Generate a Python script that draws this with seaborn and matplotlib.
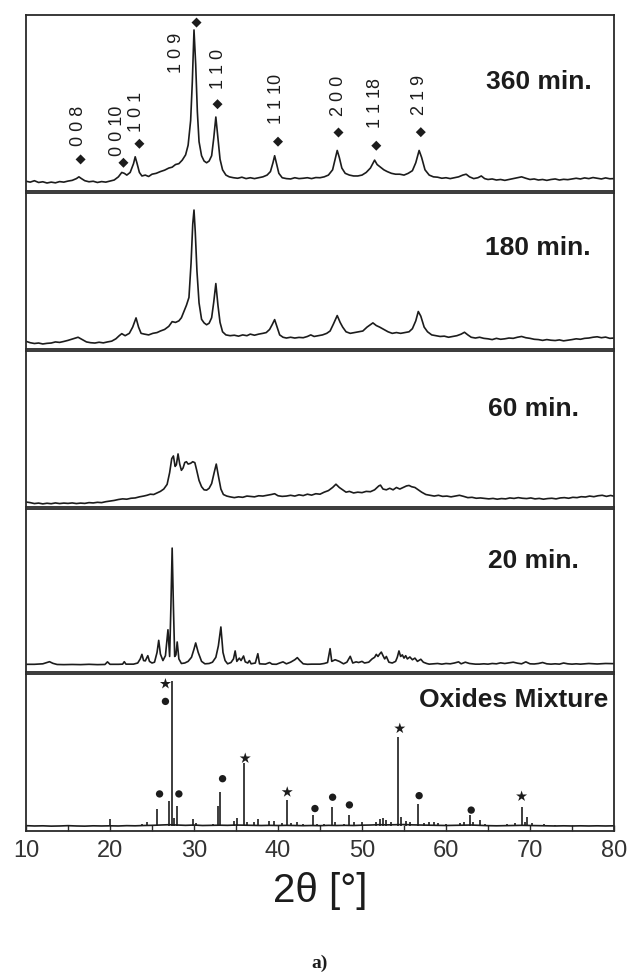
"""
XRD patterns of the oxide mixture after increasing milling time.
Five stacked panels sharing the 2-theta axis.
"""

import matplotlib.pyplot as plt
import seaborn as sns

# Data (2theta in degrees, intensity in % of panel height)

X_360 = [10.0, 10.5, 11.0, 11.5, 12.0, 12.5, 13.0, 13.5, 14.0, 14.5, 15.0, 15.5, 16.0, 16.3, 16.6,
         17.0, 17.5, 18.0, 18.5, 19.0, 19.5, 20.0, 20.5, 21.0, 21.4, 21.7, 22.0, 22.4, 22.8, 23.0,
         23.2, 23.5, 23.8, 24.2, 24.6, 25.0, 25.5, 26.0, 26.5, 27.0, 27.4, 27.8, 28.2, 28.6, 29.0,
         29.3, 29.6, 29.8, 30.0, 30.2, 30.4, 30.6, 30.9, 31.2, 31.5, 31.8, 32.1, 32.35, 32.6, 32.85,
         33.1, 33.4, 33.8, 34.2, 34.7, 35.2, 35.7, 36.2, 36.7, 37.2, 37.7, 38.2, 38.7, 39.1, 39.4,
         39.6, 39.8, 40.1, 40.5, 41.0, 41.5, 42.0, 42.5, 43.0, 43.5, 44.0, 44.5, 45.0, 45.5, 46.0,
         46.5, 46.8, 47.05, 47.3, 47.6, 48.0, 48.5, 49.0, 49.5, 50.0, 50.5, 51.0, 51.5, 51.8, 52.2,
         52.6, 53.0, 53.5, 54.0, 54.5, 55.0, 55.5, 56.0, 56.4, 56.8, 57.1, 57.5, 58.0, 58.5, 59.0,
         59.5, 60.0, 60.5, 61.0, 61.5, 62.0, 62.4, 62.8, 63.3, 63.8, 64.2, 64.6, 65.0, 65.5, 66.0,
         66.5, 67.0, 67.5, 68.0, 68.5, 69.0, 69.5, 70.0, 70.5, 71.0, 71.5, 72.0, 72.5, 73.0, 73.5,
         74.0, 74.5, 75.0, 75.5, 76.0, 76.5, 77.0, 77.5, 78.0, 78.5, 79.0, 79.5, 80.0]
I_360 = [5.5, 5.0, 5.8, 4.8, 5.2, 4.5, 5.0, 4.6, 5.3, 5.0, 5.6, 6.0, 7.0, 8.0, 7.0,
         5.8, 5.2, 5.5, 4.8, 5.3, 5.0, 5.6, 6.2, 8.0, 10.5, 10.0, 9.0, 10.5, 15.5, 19.4,
         16.0, 10.5, 8.5, 9.0, 8.2, 9.5, 10.0, 11.0, 11.8, 13.0, 13.5, 15.0, 15.5, 17.5, 20.5,
         26.0, 40.0, 62.0, 91.5, 72.0, 45.0, 28.0, 20.0, 17.0, 16.0, 17.0, 20.0, 30.0, 42.0, 30.0,
         18.0, 12.0, 9.0, 8.0, 7.5, 7.2, 7.8, 7.0, 7.5, 7.0, 7.5, 8.0, 9.0, 11.0, 16.0,
         20.0, 16.0, 10.0, 7.5, 7.0, 6.8, 7.5, 7.0, 7.2, 7.5, 7.0, 7.6, 7.5, 8.0, 9.0,
         12.0, 18.0, 23.0, 19.0, 13.0, 10.0, 9.0, 8.5, 8.5, 9.0, 10.5, 13.0, 17.5, 15.0, 13.5,
         12.0, 11.0, 10.0, 9.5, 9.5, 9.0, 10.0, 11.5, 16.0, 23.0, 19.0, 12.0, 9.0, 8.0, 7.8,
         7.2, 7.5, 7.0, 7.5, 8.0, 9.0, 9.5, 8.0, 7.0, 7.5, 8.5, 7.0, 6.5, 6.8, 6.2,
         6.5, 6.0, 6.5, 7.0, 7.5, 8.0, 7.2, 6.5, 6.8, 6.2, 6.5, 6.0, 6.5, 6.8, 6.2,
         6.6, 6.4, 6.8, 7.2, 6.8, 7.4, 7.0, 7.6, 7.2, 6.8, 7.4, 6.9, 7.0]

X_180 = [10.0, 10.5, 11.0, 11.5, 12.0, 12.5, 13.0, 13.5, 14.0, 14.5, 15.0, 15.6, 16.2, 16.7, 17.2,
         17.7, 18.2, 18.7, 19.2, 19.7, 20.2, 20.7, 21.1, 21.4, 21.8, 22.3, 22.7, 23.1, 23.4, 23.7,
         24.1, 24.6, 25.1, 25.6, 26.0, 26.5, 27.0, 27.4, 27.8, 28.2, 28.5, 28.8, 29.1, 29.4, 29.65,
         29.85, 30.0, 30.15, 30.35, 30.6, 30.9, 31.2, 31.5, 31.8, 32.1, 32.35, 32.6, 32.85, 33.1, 33.4,
         33.8, 34.3, 34.8, 35.3, 35.8, 36.3, 36.7, 37.2, 37.7, 38.2, 38.6, 39.0, 39.3, 39.6, 39.9,
         40.2, 40.6, 41.0, 41.5, 42.0, 42.5, 43.0, 43.5, 43.9, 44.3, 44.8, 45.3, 45.8, 46.2, 46.6,
         47.05, 47.4, 47.7, 48.1, 48.6, 49.1, 49.6, 50.1, 50.6, 51.0, 51.3, 51.7, 52.1, 52.6, 53.1,
         53.6, 54.1, 54.6, 55.1, 55.6, 56.0, 56.4, 56.7, 57.0, 57.4, 57.8, 58.3, 58.8, 59.3, 59.8,
         60.3, 60.8, 61.3, 61.8, 62.2, 62.6, 63.0, 63.5, 64.0, 64.5, 65.0, 65.5, 66.0, 66.5, 67.0,
         67.5, 68.0, 68.5, 69.0, 69.5, 70.0, 70.5, 71.0, 71.5, 72.0, 72.5, 73.0, 73.5, 74.0, 74.5,
         75.0, 75.5, 76.0, 76.5, 77.0, 77.5, 78.0, 78.5, 79.0, 79.5, 80.0]
I_180 = [4.9, 4.0, 3.5, 3.8, 3.2, 3.6, 3.8, 4.5, 4.2, 4.8, 5.5, 6.5, 7.5, 6.0, 4.5,
         4.0, 3.8, 4.3, 3.9, 4.5, 5.0, 6.5, 8.5, 9.8, 8.5, 10.0, 14.0, 19.9, 14.0, 10.0,
         9.5, 9.0, 10.0, 10.5, 11.5, 12.5, 14.5, 17.5, 17.0, 18.0, 20.0, 24.0, 28.0, 33.0, 55.0,
         80.0, 89.0, 75.0, 50.0, 29.5, 19.0, 16.7, 15.5, 16.5, 20.0, 30.0, 41.9, 28.0, 17.0, 11.0,
         9.0, 8.5, 8.8, 8.2, 9.0, 8.5, 9.5, 8.8, 9.5, 10.0, 10.5, 12.5, 15.5, 18.8, 14.0,
         9.0, 7.5, 7.0, 7.5, 7.0, 7.4, 7.2, 8.0, 9.0, 8.0, 8.5, 9.0, 10.0, 11.5, 16.0,
         21.4, 17.0, 14.0, 11.0, 10.0, 10.5, 11.0, 11.5, 14.0, 15.5, 16.7, 15.0, 14.0, 12.5, 11.0,
         10.0, 10.5, 10.0, 10.5, 11.0, 13.0, 18.0, 24.0, 21.0, 14.0, 11.0, 9.0, 8.5, 8.0, 8.2,
         7.5, 8.0, 8.5, 9.5, 10.7, 9.0, 7.5, 7.0, 7.5, 6.8, 6.5, 6.0, 6.8, 6.2, 6.5,
         7.0, 6.8, 7.5, 8.0, 7.2, 6.8, 6.2, 6.0, 5.5, 6.0, 5.6, 5.4, 5.8, 5.2, 5.6,
         6.0, 6.5, 6.2, 6.8, 7.0, 7.5, 7.8, 7.2, 7.6, 6.8, 7.0]

X_60 = [10.0, 10.5, 11.0, 11.5, 12.0, 12.5, 13.0, 13.5, 14.0, 14.5, 15.0, 15.5, 16.0, 16.5, 17.0,
        17.5, 18.0, 18.5, 19.0, 19.5, 20.0, 20.5, 21.0, 21.5, 22.0, 22.5, 23.0, 23.5, 24.0, 24.4,
        24.8, 25.2, 25.6, 26.0, 26.4, 26.8, 27.1, 27.35, 27.55, 27.75, 27.9, 28.1, 28.3, 28.5, 28.7,
        28.9, 29.1, 29.3, 29.6, 29.85, 30.1, 30.3, 30.6, 30.9, 31.2, 31.5, 31.8, 32.1, 32.4, 32.65,
        32.9, 33.2, 33.5, 33.9, 34.3, 34.8, 35.3, 35.8, 36.3, 36.7, 37.2, 37.7, 38.2, 38.7, 39.2,
        39.6, 40.0, 40.5, 41.0, 41.5, 42.0, 42.5, 43.0, 43.5, 44.0, 44.5, 45.0, 45.5, 46.0, 46.5,
        46.9, 47.3, 47.7, 48.1, 48.5, 49.0, 49.5, 50.0, 50.5, 51.0, 51.5, 52.0, 52.2, 52.5, 52.9,
        53.3, 53.7, 54.1, 54.5, 54.9, 55.3, 55.6, 55.9, 56.3, 56.7, 57.1, 57.6, 58.1, 58.6, 59.1,
        59.6, 60.1, 60.6, 61.1, 61.6, 62.1, 62.6, 63.1, 63.6, 64.1, 64.6, 65.1, 65.6, 66.1, 66.6,
        67.1, 67.6, 68.1, 68.6, 69.1, 69.6, 70.1, 70.6, 71.1, 71.6, 72.1, 72.6, 73.1, 73.6, 74.1,
        74.6, 75.1, 75.6, 76.1, 76.6, 77.1, 77.6, 78.1, 78.6, 79.1, 79.6, 80.0]
I_60 = [3.2, 2.8, 2.2, 2.5, 2.0, 2.4, 2.1, 2.6, 2.2, 2.5, 2.3, 2.6, 2.2, 2.5, 2.3,
        2.8, 2.6, 3.0, 2.8, 3.4, 3.8, 4.2, 4.8, 5.2, 5.0, 5.6, 5.8, 6.5, 7.0, 7.5,
        8.2, 8.0, 9.0, 10.0, 11.5, 14.5, 22.0, 31.0, 32.7, 26.0, 27.0, 34.0, 27.5, 23.5, 25.0,
        28.5, 29.0, 27.5, 28.0, 29.0, 28.4, 24.0, 17.0, 13.0, 11.0, 10.8, 12.0, 15.0, 22.0, 27.5,
        20.0, 11.5, 8.0, 7.0, 6.5, 6.0, 6.5, 6.2, 7.0, 6.8, 6.5, 7.2, 7.0, 7.5, 8.0,
        8.5, 7.2, 6.8, 7.0, 7.5, 7.0, 7.8, 7.3, 8.2, 7.6, 8.5, 8.2, 9.5, 10.5, 12.5,
        14.6, 12.5, 11.0, 9.5, 10.0, 9.0, 9.5, 9.2, 10.0, 9.8, 11.0, 13.5, 14.0, 11.5, 11.0,
        12.0, 11.0, 12.5, 11.5, 12.5, 13.5, 13.8, 13.0, 12.5, 11.0, 9.5, 8.0, 7.5, 7.0, 7.5,
        6.8, 7.0, 6.5, 7.0, 7.5, 6.8, 6.0, 6.2, 5.6, 5.8, 5.5, 5.2, 5.5, 5.0, 5.4,
        5.2, 5.8, 5.5, 6.0, 5.6, 5.4, 5.8, 5.2, 5.5, 5.0, 5.4, 5.6, 5.2, 5.8, 6.0,
        5.6, 6.2, 6.0, 6.6, 6.4, 7.0, 6.6, 7.2, 7.5, 6.8, 7.4, 6.9]

X_20 = [10.0, 11.0, 12.0, 12.5, 12.8, 13.2, 13.7, 14.5, 15.5, 16.5, 17.5, 18.5, 19.4, 19.7, 20.0,
        21.0, 21.5, 21.7, 21.9, 22.8, 23.3, 23.6, 23.8, 24.0, 24.2, 24.5, 24.7, 25.0, 25.3, 25.6,
        25.8, 26.0, 26.3, 26.6, 26.9, 27.1, 27.25, 27.4, 27.55, 27.7, 27.85, 28.0, 28.2, 28.5, 28.9,
        29.3, 29.7, 30.0, 30.2, 30.5, 30.9, 31.3, 31.8, 32.2, 32.6, 32.9, 33.2, 33.45, 33.7, 34.0,
        34.4, 34.7, 34.9, 35.1, 35.4, 35.6, 35.9, 36.1, 36.4, 36.6, 36.8, 37.3, 37.6, 37.8, 38.5,
        39.0, 39.3, 39.8, 40.2, 40.6, 41.0, 41.5, 42.0, 42.3, 42.6, 43.0, 43.5, 44.0, 44.5, 45.0,
        45.5, 45.9, 46.2, 46.4, 46.8, 47.3, 47.8, 48.2, 48.6, 48.9, 49.3, 49.6, 50.0, 50.3, 50.8,
        51.2, 51.5, 51.7, 51.9, 52.1, 52.3, 52.5, 52.7, 52.9, 53.2, 53.6, 54.0, 54.2, 54.4, 54.6,
        54.8, 55.0, 55.2, 55.4, 55.7, 56.0, 56.3, 56.6, 57.0, 57.3, 57.7, 58.0, 58.6, 59.0, 59.5,
        60.0, 60.5, 61.0, 61.5, 61.8, 62.3, 62.8, 63.5, 64.0, 64.5, 65.0, 65.5, 66.0, 66.5, 67.0,
        67.5, 68.0, 68.5, 69.0, 69.5, 70.0, 70.5, 71.0, 71.5, 72.0, 72.5, 73.0, 73.5, 74.0, 74.5,
        75.0, 75.5, 76.0, 77.0, 78.0, 79.0, 80.0]
I_20 = [4.7, 4.7, 5.0, 5.8, 6.3, 5.3, 4.6, 4.5, 4.6, 4.5, 4.7, 4.5, 4.6, 6.2, 4.7,
        4.7, 4.8, 6.3, 4.8, 4.8, 5.5, 8.0, 10.8, 7.0, 6.8, 10.0, 6.5, 5.5, 6.0, 12.0,
        19.4, 11.0, 7.0, 10.0, 25.9, 9.5, 40.0, 76.0, 40.0, 9.5, 10.5, 18.4, 8.0, 5.2, 5.5,
        6.5, 9.0, 14.0, 17.8, 12.0, 6.5, 5.0, 5.2, 6.0, 9.0, 16.0, 27.6, 12.0, 7.0, 5.0,
        5.8, 8.0, 12.9, 6.5, 8.5, 7.0, 9.8, 6.2, 5.5, 7.0, 5.0, 5.5, 11.2, 5.0, 4.8,
        5.8, 4.8, 4.7, 5.5, 6.2, 5.0, 6.0, 7.5, 8.8, 7.0, 5.0, 4.7, 4.8, 4.8, 4.8,
        5.2, 5.8, 14.3, 6.5, 7.5, 6.5, 5.0, 6.0, 9.6, 5.5, 6.2, 5.8, 6.5, 5.5, 6.0,
        8.0, 9.0, 10.8, 9.5, 11.0, 12.2, 10.0, 8.0, 9.5, 6.0, 5.5, 6.5, 9.0, 12.9, 9.5,
        10.5, 8.5, 10.0, 8.0, 9.2, 7.5, 8.5, 6.5, 7.8, 6.0, 5.2, 4.8, 5.0, 5.2, 4.8,
        5.2, 5.0, 5.5, 6.2, 5.0, 6.0, 5.2, 4.8, 4.8, 5.0, 4.8, 5.2, 5.0, 5.6, 5.2,
        5.6, 6.0, 5.4, 5.0, 6.2, 5.0, 4.9, 5.2, 5.8, 5.0, 4.8, 5.0, 4.8, 5.5, 5.0,
        4.8, 5.0, 4.8, 5.2, 4.9, 5.2, 5.1]

# oxide mixture: flat baseline plus sharp reflections drawn as sticks
X_OXIDE_BASE = [10.0, 11.0, 12.0, 13.0, 14.0, 15.0, 16.0, 17.0, 18.0, 19.0, 20.0, 21.0, 22.0, 23.0,
                24.0, 25.0, 26.0, 27.0, 28.0, 29.0, 30.0, 31.0, 32.0, 33.0, 34.0, 35.0, 36.0, 37.0,
                38.0, 39.0, 40.0, 41.0, 42.0, 43.0, 44.0, 45.0, 46.0, 47.0, 48.0, 49.0, 50.0, 51.0,
                52.0, 53.0, 54.0, 55.0, 56.0, 57.0, 58.0, 59.0, 60.0, 61.0, 62.0, 63.0, 64.0, 65.0,
                66.0, 67.0, 68.0, 69.0, 70.0, 71.0, 72.0, 73.0, 74.0, 75.0, 76.0, 77.0, 78.0, 79.0, 80.0]
I_OXIDE_BASE = [3.4, 3.2, 3.3, 3.1, 3.2, 3.4, 3.2, 3.1, 3.3, 3.2, 3.3, 3.2, 3.4, 3.3,
                3.5, 3.6, 3.8, 4.0, 3.8, 3.6, 3.8, 3.5, 3.6, 3.7, 3.6, 3.8, 3.7, 3.6,
                3.5, 3.6, 3.5, 3.6, 3.5, 3.4, 3.5, 3.4, 3.6, 3.5, 3.6, 3.5, 3.7, 3.8,
                4.0, 3.9, 4.0, 4.1, 3.9, 3.8, 3.7, 3.6, 3.5, 3.6, 3.7, 3.8, 3.6, 3.4,
                3.3, 3.4, 3.5, 3.6, 3.5, 3.4, 3.3, 3.2, 3.3, 3.2, 3.3, 3.2, 3.3, 3.2, 3.3]
OXIDE_PEAK_POS = [20.0, 23.8, 24.4, 25.6, 27.0, 27.4, 27.6, 28.0, 29.9, 30.2, 32.3, 32.9, 33.1,
                  34.8, 35.1, 36.0, 36.3, 37.2, 37.6, 38.9, 39.5, 40.5, 41.1, 41.6, 42.3, 43.0,
                  44.2, 44.7, 45.5, 46.4, 46.8, 47.9, 48.5, 49.0, 50.0, 51.7, 52.2, 52.5, 52.9,
                  53.4, 54.3, 54.7, 55.2, 55.7, 56.65, 57.4, 58.0, 58.6, 59.1, 60.0, 61.7, 62.2,
                  62.8, 63.2, 64.0, 64.6, 66.5, 67.3, 68.2, 69.0, 69.4, 69.7, 70.2, 71.7, 73.0]
OXIDE_PEAK_INT = [7.8, 4.5, 5.5, 13.7, 19.0, 95.4, 8.0, 16.2, 7.4, 5.0, 4.5, 16.0, 25.0,
                  6.5, 8.0, 43.0, 6.0, 5.5, 7.5, 6.5, 6.5, 5.0, 19.6, 5.0, 5.5, 4.5,
                  10.0, 4.5, 4.5, 15.4, 6.0, 4.5, 10.5, 5.5, 6.0, 5.5, 7.5, 8.0, 7.0,
                  5.5, 60.0, 9.0, 6.5, 5.5, 17.5, 5.0, 6.0, 5.5, 5.0, 4.5, 5.0, 6.0,
                  10.5, 5.5, 7.0, 4.5, 4.0, 4.5, 5.0, 15.4, 6.0, 9.0, 5.0, 4.5, 4.0]

# phase markers in the oxide mixture
STAR_X = [26.6, 36.1, 41.1, 54.5, 69.0]
STAR_Y = [93.7, 46.3, 24.8, 65.3, 22.1]
DOT_X = [26.6, 25.9, 28.2, 33.4, 44.4, 46.5, 48.5, 56.8, 63.0]
DOT_Y = [82.5, 23.6, 23.6, 33.3, 14.3, 21.5, 16.6, 22.5, 13.3]

# hkl reflections of the product (360 min)
HKL_LABELS = ["0 0 8", "0 0 10", "1 0 1", "1 0 9", "1 1 0", "1 1 10", "2 0 0", "1 1 18", "2 1 9"]
HKL_TEXT_X = [16.3, 20.9, 23.1, 27.9, 32.9, 39.8, 47.2, 51.6, 56.8]
HKL_TEXT_Y = [25.6, 20.0, 33.5, 67.0, 57.7, 37.9, 42.5, 36.0, 43.0]
HKL_MARK_X = [16.5, 21.6, 23.5, 30.3, 32.8, 40.0, 47.2, 51.7, 57.0]
HKL_MARK_Y = [17.9, 16.0, 26.8, 95.7, 49.3, 28.0, 33.2, 25.7, 33.4]

PANEL_LABELS = ["360 min.", "180 min.", "60 min.", "20 min.", "Oxides Mixture"]
LABEL_X = [0.963, 0.961, 0.941, 0.941, 0.990]
LABEL_Y = [0.62, 0.646, 0.63, 0.68, 0.836]

INK = "#1c1c1c"

sns.set_theme(style="white")
plt.rcParams["font.family"] = ["Liberation Sans", "DejaVu Sans"]

fig = plt.figure(figsize=(6.27, 9.72), dpi=100)
gs = fig.add_gridspec(
    5, 1,
    left=26 / 627, right=614 / 627, top=1 - 15 / 972, bottom=1 - 831 / 972,
    hspace=0.012, height_ratios=[177.5, 157.5, 157.5, 164.5, 158.5],
)
axes = [fig.add_subplot(gs[i, 0]) for i in range(5)]

curves = [(X_360, I_360), (X_180, I_180), (X_60, I_60), (X_20, I_20)]
for ax, (xs, ys) in zip(axes[:4], curves):
    sns.lineplot(x=xs, y=ys, ax=ax, color=INK, linewidth=1.2, sort=False, estimator=None)

ax5 = axes[4]
sns.lineplot(x=X_OXIDE_BASE, y=I_OXIDE_BASE, ax=ax5, color=INK, linewidth=1.2,
             sort=False, estimator=None)
ax5.vlines(OXIDE_PEAK_POS, 3.3, OXIDE_PEAK_INT, color=INK, linewidth=1.2)
sns.scatterplot(x=STAR_X, y=STAR_Y, ax=ax5, marker="*", s=70, color=INK,
                edgecolor="none", zorder=5, clip_on=False)
sns.scatterplot(x=DOT_X, y=DOT_Y, ax=ax5, marker="o", s=28, color=INK,
                edgecolor="none", zorder=5, clip_on=False)

ax1 = axes[0]
sns.scatterplot(x=HKL_MARK_X, y=HKL_MARK_Y, ax=ax1, marker="D", s=26, color=INK,
                edgecolor="none", zorder=5, clip_on=False)
for lab, tx, ty in zip(HKL_LABELS, HKL_TEXT_X, HKL_TEXT_Y):
    ax1.text(tx, ty, lab, rotation=90, ha="center", va="bottom", fontsize=13, color=INK)

for i, ax in enumerate(axes):
    ax.set_xlim(10, 80)
    ax.set_ylim(0, 100)
    ax.set_yticks([])
    ax.set_ylabel("")
    for sp in ax.spines.values():
        sp.set_visible(True)
        sp.set_color("#2a2a2a")
        sp.set_linewidth(1.3)
    ax.text(LABEL_X[i], LABEL_Y[i], PANEL_LABELS[i], transform=ax.transAxes,
            ha="right", va="center", fontsize=19, fontweight="bold", color=INK)
    if i < 4:
        ax.set_xticks([])

ax5.set_xticks(range(10, 81, 10))
ax5.set_xticks(range(15, 80, 10), minor=True)
ax5.tick_params(axis="x", which="both", direction="in", length=4, width=1,
                color="#2a2a2a", bottom=True, labelsize=17, labelcolor="#333333", pad=6.5)
ax5.set_xlabel("2θ [°]", fontsize=29, color=INK, labelpad=7)

fig.text(0.509, 1 - 963 / 972, "a)", ha="center", va="center", fontsize=14,
         fontweight="bold", family=["Liberation Serif", "DejaVu Serif"], color=INK)

fig.savefig("out.png", dpi=100)
